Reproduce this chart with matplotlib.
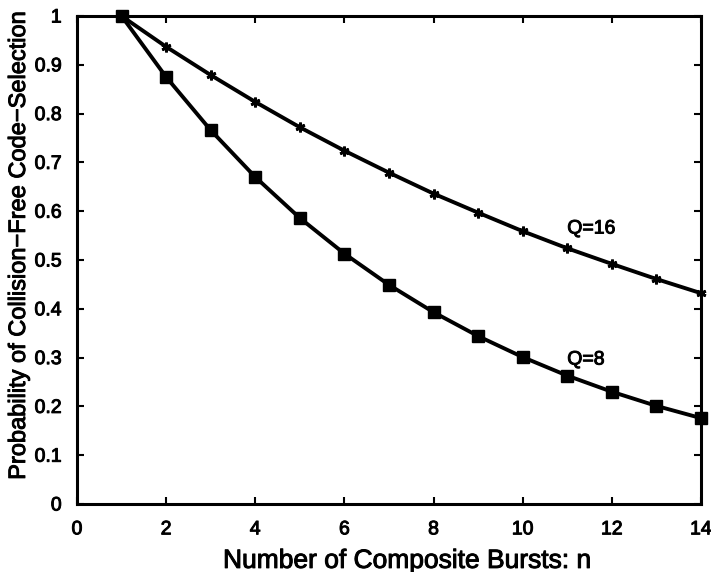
import matplotlib
matplotlib.use("Agg")
import matplotlib.pyplot as plt
import matplotlib.patheffects as pe

plt.rcParams['font.family'] = ['Liberation Sans', 'DejaVu Sans']

n = [1, 2, 3, 4, 5, 6, 7, 8, 9, 10, 11, 12, 13, 14]
q16 = [1.0, 0.937, 0.879, 0.824, 0.772, 0.724, 0.679, 0.636, 0.597, 0.559, 0.524, 0.492, 0.461, 0.432]
q8 = [1.0, 0.875, 0.766, 0.670, 0.586, 0.513, 0.449, 0.393, 0.344, 0.301, 0.263, 0.230, 0.201, 0.176]
xticks = [0, 2, 4, 6, 8, 10, 12, 14]
yticks = [0, 0.1, 0.2, 0.3, 0.4, 0.5, 0.6, 0.7, 0.8, 0.9, 1]

thick = [pe.withStroke(linewidth=0.7, foreground='black')]

fig = plt.figure(figsize=(7.11, 5.72), dpi=100)
ax = fig.add_axes([0.1083, 0.1189, 0.8776, 0.8531])

ax.plot(n, q16, color='black', lw=2.8, marker=(6, 2, 0), ms=7, mew=2.0, clip_on=False)
ax.plot(n, q8, color='black', lw=2.8, marker='s', ms=8, clip_on=False)

ax.text(11.0, 0.5635, 'Q=16', fontsize=14, ha='left', va='center', path_effects=thick)
ax.text(11.0, 0.295, 'Q=8', fontsize=14, ha='left', va='center', path_effects=thick)

ax.set_xlim(0, 14)
ax.set_ylim(0, 1)
ax.set_xticks(xticks)
ax.set_xticklabels([str(v) for v in xticks])
ax.set_yticks(yticks)
ax.set_yticklabels([('%g' % v) for v in yticks])
ax.tick_params(direction='in', length=5, width=1.5, labelsize=14, top=True, right=True)
ax.tick_params(axis='y', pad=11)
ax.tick_params(axis='x', pad=12.5)
for lab in ax.get_xticklabels() + ax.get_yticklabels():
    lab.set_path_effects(thick)
for s in ax.spines.values():
    s.set_linewidth(2.2)

ax.set_xlabel('Number of Composite Bursts: n', fontsize=19, va='baseline', path_effects=thick)
ax.xaxis.set_label_coords(0.529, -0.131)
ax.set_ylabel('Probability of Collision\u2212Free Code\u2212Selection', fontsize=17, va='center', path_effects=thick)
ax.yaxis.set_label_coords(-0.093, 0.531)

fig.savefig('out.png', dpi=100)
